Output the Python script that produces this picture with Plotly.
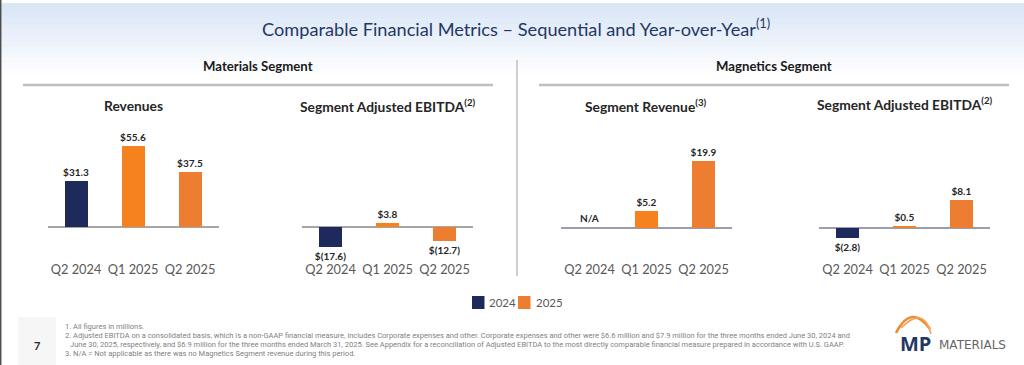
import plotly.graph_objects as go

# ---------------- data ----------------
categories = ["Q2 2024", "Q1 2025", "Q2 2025"]
materials_revenue = [31.3, 55.6, 37.5]
materials_ebitda = [-17.6, 3.8, -12.7]
magnetics_revenue = [None, 5.2, 19.9]
magnetics_ebitda = [-2.8, 0.5, 8.1]
years = ["2024", "2025"]

title_text = "Comparable Financial Metrics \u2013 Sequential and Year-over-Year<sup>(1)</sup>"
segment_titles = ["Materials Segment", "Magnetics Segment"]
chart_titles = ["Revenues", "Segment Adjusted EBITDA<sup>(2)</sup>",
                "Segment Revenue<sup>(3)</sup>", "Segment Adjusted EBITDA<sup>(2)</sup>"]
footnotes = [
    "1. All figures in millions.",
    "2. Adjusted EBITDA on a consolidated basis, which is a non-GAAP financial measure, includes Corporate expenses and other. Corporate expenses and other were $6.6 million and $7.9 million for the three months ended June 30, 2024 and",
    "    June 30, 2025, respectively, and $6.9 million for the three months ended March 31, 2025. See Appendix for a reconciliation of Adjusted EBITDA to the most directly comparable financial measure prepared in accordance with U.S. GAAP.",
    "3. N/A = Not applicable as there was no Magnetics Segment revenue during this period.",
]

# ---------------- style ----------------
W, H = 1024, 365
NAVY = "#1f2a5c"
ORANGE_A = "#f5821f"
ORANGE_B = "#ed7d31"
TXT = "#262626"
GREY = "#595959"
LINE = "#bfbfbf"
FONT = "Lato"


def fx(px):
    return px / W


def fy(py):
    return 1 - py / H


def money(v):
    if v is None:
        return None
    return f"<b>${v:.1f}</b>" if v >= 0 else f"<b>$({-v:.1f})</b>"


# panel geometry in pixels: (x_left, x_right, baseline_px, px_per_unit, baseline_colour)
panels = [
    (47.5, 218.5, 227, 1.465, "#a6a6a6"),
    (302.0, 473.0, 227, 1.12, "#a6a6a6"),
    (561.0, 732.0, 228, 3.35, "#9a9db5"),
    (819.0, 990.0, 228, 3.45, "#9a9db5"),
]
series = [materials_revenue, materials_ebitda, magnetics_revenue, magnetics_ebitda]
Y_TOP, Y_BOT = 115, 258

fig = go.Figure()

for i, (vals, (xl, xr, base, s, zc)) in enumerate(zip(series, panels)):
    n = i + 1
    xa = "x" if n == 1 else f"x{n}"
    ya = "y" if n == 1 else f"y{n}"
    v24 = [vals[0]]
    v25 = vals[1:]
    fig.add_trace(go.Bar(
        x=categories[:1], y=v24, xaxis=xa, yaxis=ya, width=0.4,
        marker=dict(color=NAVY, line=dict(width=0)),
        text=[money(v) or "" for v in v24], textposition="outside",
        constraintext="none",
        textfont=dict(family=FONT, size=10, color=TXT), cliponaxis=False,
        name=years[0], showlegend=False, hoverinfo="skip"))
    fig.add_trace(go.Bar(
        x=categories[1:], y=v25, xaxis=xa, yaxis=ya, width=0.4,
        marker=dict(color=[ORANGE_A, ORANGE_B], line=dict(width=0)),
        text=[money(v) or "" for v in v25], textposition="outside",
        constraintext="none",
        textfont=dict(family=FONT, size=10, color=TXT), cliponaxis=False,
        name=years[1], showlegend=False, hoverinfo="skip"))
    ymax = (base - Y_TOP) / s
    ymin = -(Y_BOT - base) / s
    fig.update_layout(**{
        ("xaxis" if n == 1 else f"xaxis{n}"): dict(
            domain=[fx(xl), fx(xr)], anchor=ya, type="category",
            categoryorder="array", categoryarray=categories, range=[-0.5, 2.5],
            showgrid=False, showline=False, ticks="", fixedrange=True, tickangle=0,
            ticklabelstandoff=2,
            tickfont=dict(family=FONT, size=12.8, color=GREY)),
        ("yaxis" if n == 1 else f"yaxis{n}"): dict(
            domain=[fy(Y_BOT), fy(Y_TOP)], anchor=xa, range=[ymin, ymax],
            showgrid=False, showline=False, showticklabels=False, ticks="",
            zeroline=True, zerolinecolor=zc, zerolinewidth=1.5, fixedrange=True),
    })

shapes = []
# header gradient
bands = ["#dae5f6", "#dce7f7", "#dfe9f7", "#e2ebf8", "#e5edf9", "#e8effa", "#ebf1fa",
         "#eef3fb", "#f1f5fc", "#f4f7fc", "#f7f9fd", "#f9fbfe", "#fcfdfe", "#ffffff"]
bh = 76 / len(bands)
for k, c in enumerate(bands):
    shapes.append(dict(type="rect", xref="paper", yref="paper", layer="below",
                       x0=0, x1=1, y0=fy(3 + (k + 1) * bh + 0.5), y1=fy(3 + k * bh),
                       fillcolor=c, line=dict(width=0)))
# left page border
shapes.append(dict(type="line", xref="paper", yref="paper", x0=fx(0.7), x1=fx(0.7),
                   y0=0, y1=1, line=dict(color="#4d4d4d", width=1.5)))
# section underlines and divider
shapes.append(dict(type="line", xref="paper", yref="paper", x0=fx(23), x1=fx(493),
                   y0=fy(85), y1=fy(85), line=dict(color=LINE, width=2.5)))
shapes.append(dict(type="line", xref="paper", yref="paper", x0=fx(539), x1=fx(1009),
                   y0=fy(85), y1=fy(85), line=dict(color=LINE, width=2.5)))
shapes.append(dict(type="line", xref="paper", yref="paper", x0=fx(517), x1=fx(517),
                   y0=fy(60), y1=fy(276), line=dict(color=LINE, width=1.5)))
# footer page-number panel
shapes.append(dict(type="rect", xref="paper", yref="paper", layer="below",
                   x0=fx(18), x1=fx(56), y0=0, y1=fy(317),
                   fillcolor="#f6f6f6", line=dict(width=0)))
# legend swatches
for c, x0 in zip([NAVY, ORANGE_B], [472, 518]):
    shapes.append(dict(type="rect", xref="paper", yref="paper",
                       x0=fx(x0), x1=fx(x0 + 12.5), y0=fy(309), y1=fy(296),
                       fillcolor=c, line=dict(width=0)))
# logo arcs
def qpath(p0, c, p1):
    return (f"M {fx(p0[0])},{fy(p0[1])} Q {fx(c[0])},{fy(c[1])} {fx(p1[0])},{fy(p1[1])}")

shapes.append(dict(type="path", xref="paper", yref="paper",
                   path=qpath((896, 333), (911, 303), (930, 329)),
                   line=dict(color="#f08a2c", width=2.6)))
shapes.append(dict(type="path", xref="paper", yref="paper",
                   path=qpath((901, 328), (924, 305), (931, 334)),
                   line=dict(color="#f5a25a", width=1.6)))

ann = []
ann.append(dict(text=title_text, x=fx(516), y=fy(27), xref="paper", yref="paper",
                showarrow=False, xanchor="center", yanchor="middle",
                font=dict(family=FONT, size=18.2, color="#1f3864")))
for t, cx in zip(segment_titles, [258, 774]):
    ann.append(dict(text=f"<b>{t}</b>", x=fx(cx), y=fy(66), xref="paper", yref="paper",
                    showarrow=False, xanchor="center", yanchor="middle",
                    font=dict(family=FONT, size=13.2, color="#1a1a1a")))
for t, cx, cy in zip(chart_titles, [133, 387, 646, 904], [106, 106, 105, 104]):
    ann.append(dict(text=f"<b>{t}</b>", x=fx(cx), y=fy(cy), xref="paper", yref="paper",
                    showarrow=False, xanchor="center", yanchor="middle",
                    font=dict(family=FONT, size=13.8, color=TXT)))
# N/A label for missing magnetics revenue
ann.append(dict(text="<b>N/A</b>", x=categories[0], y=0, xref="x3", yref="y3",
                showarrow=False, xanchor="center", yanchor="bottom", yshift=2,
                font=dict(family=FONT, size=10, color=TXT)))
# legend labels
for t, x0 in zip(years, [487, 534]):
    ann.append(dict(text=t, x=fx(x0), y=fy(302.5), xref="paper", yref="paper",
                    showarrow=False, xanchor="left", yanchor="middle",
                    font=dict(family=FONT, size=11.5, color=GREY)))
# page number
ann.append(dict(text="<b>7</b>", x=fx(37), y=fy(345), xref="paper", yref="paper",
                showarrow=False, xanchor="center", yanchor="middle",
                font=dict(family=FONT, size=11, color=TXT)))
# footnotes
for k, t in enumerate(footnotes):
    xl = 63 if not t.startswith("    ") else 68
    ann.append(dict(text=t.strip(), x=fx(xl), y=fy(326 + k * 9.3), xref="paper",
                    yref="paper", showarrow=False, xanchor="left", yanchor="middle",
                    font=dict(family="Roboto", size=7.5, color="#7f7f7f")))
# logo text
ann.append(dict(text="<b>MP</b>", x=fx(915), y=fy(343), xref="paper", yref="paper",
                showarrow=False, xanchor="center", yanchor="middle",
                font=dict(family="Open Sans", size=20, color="#1f3864")))
ann.append(dict(text="MATERIALS", x=fx(937), y=fy(345), xref="paper", yref="paper",
                showarrow=False, xanchor="left", yanchor="middle",
                font=dict(family="DejaVu Sans", size=12, color="#666666")))

fig.update_layout(
    width=W, height=H, autosize=False,
    margin=dict(l=0, r=0, t=0, b=0, pad=0),
    paper_bgcolor="white", plot_bgcolor="rgba(0,0,0,0)",
    barmode="overlay", bargap=0,
    showlegend=False,
    shapes=shapes, annotations=ann,
    font=dict(family=FONT),
)

fig.write_html("out.html", config={"displayModeBar": False},
               post_script="document.body.style.margin='0';document.body.style.overflow='hidden';")
